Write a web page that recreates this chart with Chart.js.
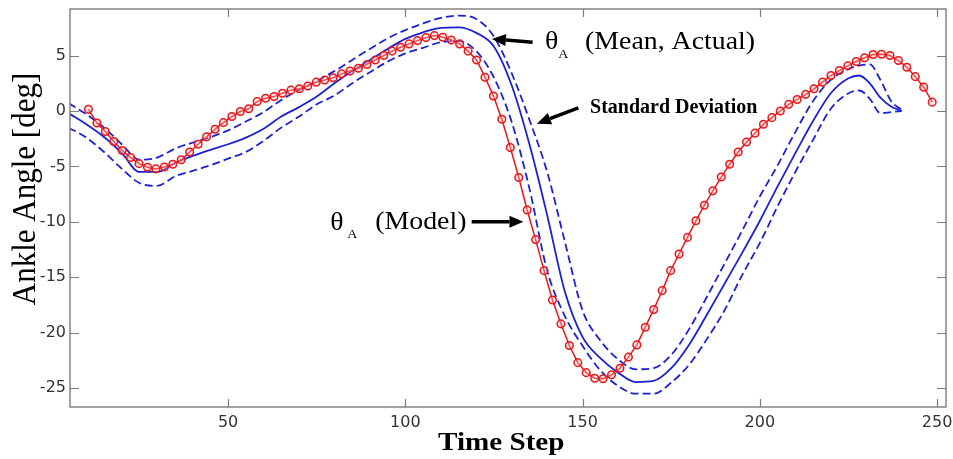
<!DOCTYPE html>
<html>
<head>
<meta charset="utf-8">
<script src="https://cdn.jsdelivr.net/npm/chart.js@4.4.0/dist/chart.umd.min.js"></script>
<style>
  html, body { margin: 0; padding: 0; background: #fff; }
  #wrap { width: 953px; height: 459px; }
</style>
</head>
<body>
<div id="wrap"><canvas id="ankleChart" width="953" height="459"></canvas></div>
<script>
// model output (red, circles), one sample every 2.38 time steps from t = 10.6
var modelStart = 10.6, modelStep = 2.38;
var modelAngle = [
  0.15, -1.08, -1.85, -2.75, -3.56, -4.2, -4.75, -5.08, -5.22, -5.05,
  -4.8, -4.4, -3.7, -3.0, -2.33, -1.65, -1.05, -0.5, -0.05, 0.2,
  0.85, 1.15, 1.3, 1.6, 1.88, 2.0, 2.25, 2.6, 2.8, 3.0,
  3.35, 3.6, 3.86, 4.2, 4.6, 5.0, 5.4, 5.75, 6.05, 6.35,
  6.62, 6.8, 6.65, 6.4, 6.05, 5.4, 4.6, 3.05, 1.35, -0.75,
  -3.3, -6.0, -8.93, -11.6, -14.4, -17.05, -19.2, -21.15, -22.7, -23.6,
  -24.1, -24.15, -23.8, -23.2, -22.2, -21.1, -19.5, -17.9, -16.2, -14.4,
  -12.9, -11.4, -9.9, -8.5, -7.2, -5.96, -4.8, -3.7, -2.8, -2.0,
  -1.2, -0.6, 0.0, 0.6, 1.04, 1.5, 2.0, 2.6, 3.2, 3.65,
  4.07, 4.46, 4.8, 5.1, 5.12, 5.0, 4.55, 3.95, 3.1, 2.15,
  0.8
];

// measured ankle angle: mean and mean +/- standard deviation (blue)
var actualSteps = [5, 10, 15, 20, 25, 30, 35, 40, 45, 50,
  55, 60, 65, 70, 75, 80, 85, 90, 95, 100,
  105, 110, 115, 120, 125, 130, 135, 140, 145, 150,
  155, 160, 165, 170, 175, 180, 185, 190, 195, 200,
  205, 210, 215, 220, 225, 228, 231, 234, 237, 240];
var actualMean = [-0.2, -1.2, -2.35, -3.8, -5.5, -5.5, -4.7, -4.05, -3.5, -3.0,
  -2.4, -1.6, -0.5, 0.35, 1.3, 2.5, 3.6, 4.6, 5.6, 6.5,
  7.1, 7.5, 7.55, 7.05, 5.8, 2.3, -3.0, -9.4, -16.3, -20.4,
  -22.3, -23.6, -24.45, -24.35, -23.2, -21.1, -18.4, -15.6, -12.8, -9.9,
  -6.8, -3.8, -0.9, 1.6, 2.95, 3.2, 2.5, 1.2, 0.4, 0.0];
var actualUpper = [0.7, -0.3, -1.5, -3.0, -4.4, -4.2, -3.4, -2.85, -2.35, -1.75,
  -0.95, -0.1, 1.0, 1.9, 2.7, 3.6, 4.6, 5.6, 6.55, 7.3,
  7.9, 8.4, 8.6, 8.3, 6.7, 3.4, -0.8, -5.5, -11.8, -18.0,
  -20.7, -22.4, -23.3, -23.2, -22.0, -19.7, -16.8, -13.8, -10.8, -7.7,
  -4.9, -1.9, 0.9, 2.8, 3.8, 4.1, 4.2, 2.8, 0.9, 0.1];
var actualLower = [-1.5, -2.4, -3.7, -5.2, -6.5, -6.75, -5.9, -5.4, -4.9, -4.3,
  -3.7, -2.7, -1.5, -0.5, 0.6, 1.4, 2.5, 3.5, 4.45, 5.2,
  5.7, 6.2, 6.3, 5.4, 3.0, -1.0, -7.0, -14.4, -18.5, -21.2,
  -23.4, -24.8, -25.5, -25.5, -24.5, -22.9, -20.6, -18.0, -14.8, -11.9,
  -8.6, -5.5, -2.6, 0.2, 1.6, 1.85, 1.1, -0.2, -0.1, 0.0];

var xTicks = [50, 100, 150, 200, 250];
var yTicks = [-25, -20, -15, -10, -5, 0, 5];

var red = '#e8161a';
var blue = '#1c22d2';

function toPoints(xs, ys) {
  return ys.map(function (y, i) { return {x: xs[i], y: y}; });
}
var modelSteps = modelAngle.map(function (_, i) { return modelStart + modelStep * i; });

// text stretched a little wider, like the scanned figure
function wideText(ctx, txt, x, y, font, sx) {
  ctx.save();
  ctx.translate(x, y);
  ctx.scale(sx, 1);
  ctx.font = font;
  ctx.textAlign = 'left';
  ctx.textBaseline = 'alphabetic';
  ctx.fillText(txt, 0, 0);
  ctx.restore();
}

function arrow(ctx, x1, y1, x2, y2) {
  var a = Math.atan2(y2 - y1, x2 - x1);
  var hl = 14, hw = 6;
  var bx = x2 - hl * Math.cos(a), by = y2 - hl * Math.sin(a);
  ctx.save();
  ctx.strokeStyle = '#000';
  ctx.fillStyle = '#000';
  ctx.lineWidth = 3.5;
  ctx.beginPath();
  ctx.moveTo(x1, y1);
  ctx.lineTo(bx, by);
  ctx.stroke();
  ctx.beginPath();
  ctx.moveTo(x2, y2);
  ctx.lineTo(bx + hw * Math.sin(a), by - hw * Math.cos(a));
  ctx.lineTo(bx - hw * Math.sin(a), by + hw * Math.cos(a));
  ctx.closePath();
  ctx.fill();
  ctx.restore();
}

var matlabLook = {
  id: 'matlabLook',
  afterDraw: function (chart) {
    var ctx = chart.ctx, area = chart.chartArea;
    var xs = chart.scales.x, ys = chart.scales.y;
    var px = function (v) { return xs.getPixelForValue(v); };
    var py = function (v) { return ys.getPixelForValue(v); };

    // box and inward ticks
    ctx.save();
    ctx.strokeStyle = '#7c7c7c';
    ctx.lineWidth = 1.4;
    ctx.strokeRect(area.left, area.top, area.right - area.left, area.bottom - area.top);
    ctx.lineWidth = 1.2;
    ctx.beginPath();
    xTicks.forEach(function (t) {
      var x = Math.round(px(t)) + 0.5;
      ctx.moveTo(x, area.bottom); ctx.lineTo(x, area.bottom - 8);
      ctx.moveTo(x, area.top); ctx.lineTo(x, area.top + 8);
    });
    yTicks.forEach(function (t) {
      var y = Math.round(py(t)) + 0.5;
      ctx.moveTo(area.left, y); ctx.lineTo(area.left + 9, y);
      ctx.moveTo(area.right, y); ctx.lineTo(area.right - 9, y);
    });
    ctx.stroke();
    ctx.restore();

    ctx.save();
    ctx.fillStyle = '#000';
    // axis titles
    wideText(ctx, 'Time Step', 438, 450, 'bold 26px "Liberation Serif"', 1.12);
    ctx.save();
    ctx.translate(35, 189);
    ctx.scale(1.1, 1);
    ctx.rotate(-Math.PI / 2);
    ctx.font = '31px "Liberation Serif"';
    ctx.textAlign = 'center';
    ctx.textBaseline = 'alphabetic';
    ctx.fillText('Ankle Angle [deg]', 0, 0);
    ctx.restore();

    // annotations, anchored in data units
    arrow(ctx, px(135.9), py(6.2), px(124.4), py(6.5));
    wideText(ctx, '\u03b8', px(139.4), py(5.63), '26px "Liberation Serif"', 1.07);
    wideText(ctx, 'A', px(143.1), py(4.82), '13px "Liberation Serif"', 1.07);
    wideText(ctx, '(Mean, Actual)', px(150.7), py(5.63), '26px "Liberation Serif"', 1.07);

    arrow(ctx, px(148.8), py(0.29), px(137.1), py(-1.15));
    wideText(ctx, 'Standard Deviation', px(152.1), py(-0.2), 'bold 20px "Liberation Serif"', 1.0);

    arrow(ctx, px(118.7), py(-10.0), px(133.3), py(-10.0));
    wideText(ctx, '\u03b8', px(78.8), py(-10.77), '26px "Liberation Serif"', 1.07);
    wideText(ctx, 'A', px(83.6), py(-11.5), '13px "Liberation Serif"', 1.07);
    wideText(ctx, '(Model)', px(91.5), py(-10.6), '26px "Liberation Serif"', 1.07);
    ctx.restore();
  }
};

var dashed = {
  borderColor: blue, borderWidth: 1.8, borderDash: [8, 4],
  pointRadius: 0, cubicInterpolationMode: 'monotone', fill: false
};

function noEdgePadding(s) {
  s.paddingLeft = 0; s.paddingRight = 0; s.paddingTop = 0; s.paddingBottom = 0;
}

var ctx = document.getElementById('ankleChart').getContext('2d');
new Chart(ctx, {
  type: 'line',
  data: {
    datasets: [
      {
        label: 'Model',
        data: toPoints(modelSteps, modelAngle),
        borderColor: red,
        borderWidth: 1.5,
        pointRadius: 3.8,
        pointBorderWidth: 1.5,
        pointBorderColor: red,
        pointBackgroundColor: 'rgba(255,190,190,0.35)',
        tension: 0
      },
      {
        label: 'Mean, Actual',
        data: toPoints(actualSteps, actualMean),
        borderColor: blue,
        borderWidth: 1.8,
        pointRadius: 0,
        cubicInterpolationMode: 'monotone'
      },
      Object.assign({label: 'Mean + SD', data: toPoints(actualSteps, actualUpper)}, dashed),
      Object.assign({label: 'Mean - SD', data: toPoints(actualSteps, actualLower)}, dashed)
    ]
  },
  options: {
    responsive: false,
    animation: false,
    events: [],
    layout: {padding: {top: 9, right: 7, left: 0, bottom: 0}},
    plugins: {legend: {display: false}, tooltip: {enabled: false}},
    scales: {
      x: {
        type: 'linear',
        min: 5.4,
        max: 252.5,
        grid: {display: false, drawTicks: false},
        border: {display: false},
        afterBuildTicks: function (s) { s.ticks = xTicks.map(function (v) { return {value: v}; }); },
        afterFit: function (s) { s.height = 52; noEdgePadding(s); },
        ticks: {padding: 6, color: '#333', font: {family: 'DejaVu Sans', size: 16}}
      },
      y: {
        min: -26.7,
        max: 9.2,
        grid: {display: false, drawTicks: false},
        border: {display: false},
        afterBuildTicks: function (s) { s.ticks = yTicks.map(function (v) { return {value: v}; }); },
        afterFit: function (s) { s.width = 70; noEdgePadding(s); },
        ticks: {padding: 4, color: '#333', font: {family: 'DejaVu Sans', size: 16}}
      }
    }
  },
  plugins: [matlabLook]
});
</script>
</body>
</html>
